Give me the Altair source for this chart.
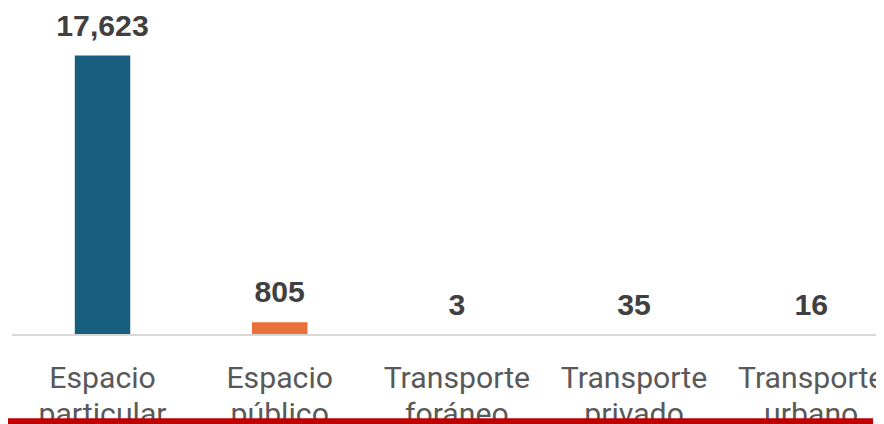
import altair as alt
import pandas as pd

categories = ["Espacio particular", "Espacio público", "Transporte foráneo",
              "Transporte privado", "Transporte urbano"]
values = [17623, 805, 3, 35, 16]
colors = ["#175e7f", "#e8703a", "#a5a5a5", "#ffc000", "#5b9bd5"]

df = pd.DataFrame({"cat": categories, "val": values, "col": colors})
df["lab"] = df["val"].map(lambda v: f"{v:,}")
base_df = pd.DataFrame({"zero": [0]})

x = alt.X("cat:N", sort=categories, title=None,
          scale=alt.Scale(range=[6, 900], paddingInner=0.687, paddingOuter=0.3435),
          axis=alt.Axis(labelExpr="split(datum.label, ' ')", labelFont="Roboto",
                        labelFontSize=30.5, labelColor="#595959", labelAngle=0,
                        labelBaseline="alphabetic", labelPadding=53, labelLineHeight=36,
                        ticks=False, tickSize=0, labelOverlap=False, labelLimit=400,
                        domain=False, grid=False))
y = alt.Y("val:Q", scale=alt.Scale(domain=[0, 20500], nice=False), axis=None)

bars = alt.Chart(df).mark_bar().encode(x=x, y=y, color=alt.Color("col:N", scale=None))
baseline = alt.Chart(base_df).mark_rule(color="#d9d9d9", strokeWidth=2).encode(
    y=alt.Y("zero:Q"), x=alt.value(4), x2=alt.value(900))
text = alt.Chart(df).mark_text(dy=-20, baseline="alphabetic", font="Liberation Sans",
                               fontWeight="bold", fontSize=30.5, color="#404040").encode(
    x=alt.X("cat:N", sort=categories), y="val:Q", text="lab:N")
red = alt.Chart(base_df).mark_rule(color="#c00000", strokeWidth=8).encode(
    x=alt.value(-8), x2=alt.value(873), y=alt.value(416))

chart = alt.layer(bars, baseline, text, red).properties(
    width=871, height=328,
    autosize=alt.AutoSizeParams(type="none"),
    padding={"left": 0, "top": 0, "right": 5, "bottom": 88},
).configure_view(stroke=None)

chart.save("out.html", embed_options={"renderer": "svg", "actions": False})
